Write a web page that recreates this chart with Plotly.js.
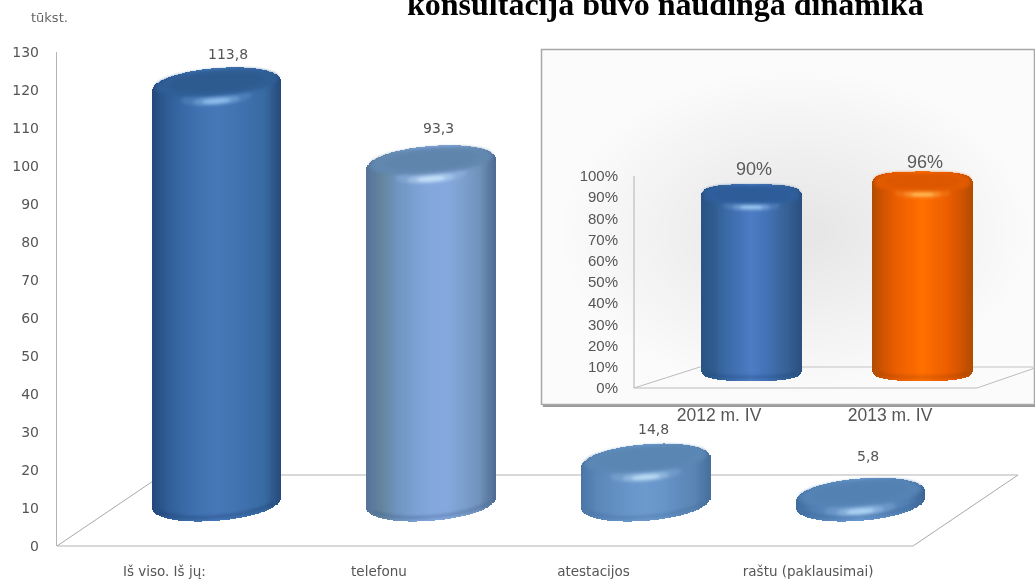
<!DOCTYPE html>
<html><head><meta charset="utf-8">
<script src="https://cdn.plot.ly/plotly-3.0.1.min.js"></script>
<style>html,body{margin:0;padding:0;background:#fff}#g{width:1035px;height:581px}
.layer-above .shapelayer{filter:blur(1.4px)}
.barlayer{filter:blur(.5px)}
.layer-below .shapelayer{filter:blur(.4px)}
.xaxislayer-above,.yaxislayer-above,.annotation:not([data-index="6"]){filter:blur(.35px)}
</style>
</head><body><div id="g"></div>
<script>
// ---- data ----
const categories = ["Iš viso. Iš jų:", "telefonu", "atestacijos", "raštu (paklausimai)"];
const values = [113.8, 93.3, 14.8, 5.8];
const valueLabels = ["113,8", "93,3", "14,8", "5,8"];
const insetCategories = ["2012 m. IV", "2013 m. IV"];
const insetValues = [90, 96];
const insetLabels = ["90%", "96%"];
const insetTicks = [0,10,20,30,40,50,60,70,80,90,100];
const title = "konsultacija buvo naudinga dinamika";
const unit = "tūkst.";
// ---- colour palettes: edge ... centre ... edge ----
const darkBlue  = {body:["#234879","#2f5d97","#3a6aa6","#4173b2","#4677b8","#4375b4","#3d6fab","#386aa2","#27497a"], cap:"#2f5e95", capIn:"#2d5a8f", glow:"#9ccaf5", rim:"#12305e"};
const lightBlue = {body:["#55729a","#64869f","#7096c2","#7ba0d2","#84a8de","#85a9de","#7c9fce","#7093bc","#4f6a92"], cap:"#6288b0", capIn:"#5f85ad", glow:"#cfeafc", rim:"#2f4a78"};
const midBlue   = {body:["#4a75a5","#5a86b8","#628fc2","#6896ca","#6d9acd","#6896ca","#608cbe","#5a86b5","#466f9d"], cap:"#5b87b4", capIn:"#5a86b3", glow:"#c6e6fa", rim:"#38608f"};
const flatBlue  = {body:["#3f6a9c","#507eb2","#5a88bc","#6492c8","#6c9ad0","#6492c8","#5a88bc","#507eb2","#3c6595"], cap:"#5583b4", capIn:"#5381b2", glow:"#b8dcf8", rim:"#2e5688"};
const insetBlue = {body:["#285383","#2f5c8e","#3a6aa6","#4472b6","#4d7cc4","#4674ba","#3c6aa6","#355f92","#285080"], cap:"#2f5e9c", capIn:"#2d5b98", glow:"#a8d6fa", rim:"#153c6e"};
const orange    = {body:["#b04c00","#d45400","#ec5e00","#f66600","#ff7000","#f66600","#ec5e00","#d45400","#b04c00"], cap:"#e25a00", capIn:"#dc5600", glow:"#ffc868", rim:"#8c3a00"};
const mainPalettes = [darkBlue, lightBlue, midBlue, flatBlue];
const insetPalettes = [insetBlue, orange];

const W = 1035, H = 581;
const dom = (a, b, size) => [a / size, b / size];
const domY = (top, bottom) => [1 - bottom / H, 1 - top / H];
const hex = c => [1,3,5].map(i => parseInt(c.substr(i,2),16));
function shade(stops, t){ // t in 0..1
  const p = t * (stops.length - 1), i = Math.min(Math.floor(p), stops.length - 2), f = p - i;
  const a = hex(stops[i]), b = hex(stops[i+1]);
  return "rgb(" + a.map((v,k) => Math.round(v + (b[k]-v)*f)).join(",") + ")";
}
const data = [], shapes = [], annotations = [];
const px = (x0,y0,x1,y1,color,w) => shapes.push({type:"line",xref:"paper",yref:"paper",layer:"below",
  x0:x0/W,x1:x1/W,y0:1-y0/H,y1:1-y1/H,line:{color:color,width:w||1}});

// inset panel background with soft centre
const rectPx = (x0,y0,x1,y1,fill,line) => shapes.push({type:"rect",xref:"paper",yref:"paper",layer:"below",
  x0:x0/W,x1:x1/W,y0:1-y0/H,y1:1-y1/H,fillcolor:fill,line:line||{width:0}});
rectPx(543,402,1035,407,"#9a9a9a");
rectPx(541.5,49.5,1034.5,404.5,"#fbfbfb",{color:"#a8a8a8",width:1.5});
const glowSteps = ["#fafafa","#f9f9f9","#f8f8f8","#f7f7f7","#f6f6f6","#f5f5f5","#f4f4f4","#f3f3f3","#f2f2f2","#f1f1f1","#f0f0f0","#efefef","#eeeeee","#ededed","#ececec","#ebebeb","#eaeaea","#e9e9e9","#e8e8e8","#e7e7e7"];
glowSteps.forEach((c,i) => {
  const rx = 232 - i*10.5, ry = 160 - i*7.4;
  shapes.push({type:"circle",xref:"paper",yref:"paper",layer:"below",
    x0:(795-rx)/W,x1:(795+rx)/W,y0:1-(232+ry)/H,y1:1-(232-ry)/H,fillcolor:c,line:{width:0}});
});
// floors and the inset's axis line
px(57,546,913,546,"#b4b4b4",1.2); px(913,546,1018,475,"#a8a8a8"); px(162,475,1018,475,"#b4b4b4",1.2); px(57,546,162,475,"#a8a8a8");
px(634,388,977,388,"#bcbcbc",1.2); px(977,388,1035,368,"#bcbcbc"); px(700,367,1035,367,"#c4c4c4",1.2); px(634,388,700,367,"#bcbcbc");
px(634,176,634,388,"#bcbcbc",1.2);

function cylinder(o){
  const N = 108, xa = [], wid = [], colsBody = [], colsCap = [];
  const bodyBase = [], bodyY = [], capBase = [], capY = [];
  const sx = o.sx, sy = o.sy, rx = o.rx, ry = o.ry, tilt = o.tilt, n = o.n;
  for (let i = 0; i < N; i++){
    const t = (i + .5)/N*2 - 1, ox = t*rx, ell = ry*Math.pow(1-Math.pow(Math.abs(t),n),1/n)/sy, tl = tilt*ox/sy;
    xa.push(o.c + ox/sx); wid.push((2*rx/N + .6)/sx);
    colsBody.push(shade(o.pal.body,(t+1)/2)); colsCap.push(shade(o.pal.body,(t+1)/2));
    bodyBase.push(o.bc + tl - ell); bodyY.push(o.v - o.bc);
    capBase.push(o.v + tl - ell); capY.push(2*ell);
  }
  const common = {type:"bar",x:xa,width:wid,xaxis:o.xa,yaxis:o.ya,hoverinfo:"skip",showlegend:false,cliponaxis:false};
  data.push(Object.assign({},common,{base:bodyBase,y:bodyY,marker:{color:colsBody,line:{width:0}}}));
  data.push(Object.assign({},common,{base:capBase,y:capY,marker:{color:colsCap,line:{width:0}}}));
  const sp = (c,e) => Math.sign(c)*Math.pow(Math.abs(c),e);
  const ell = (drx,dry,dx,dy,fill,op) => {
    let d = "";
    for (let k = 0; k <= 60; k++){
      const a = k/60*2*Math.PI, ex = drx*sp(Math.cos(a),2/n)+dx, ey = dry*sp(Math.sin(a),2/n)+dy;
      const X = o.c + ex/sx, Y = o.v - ey/sy + tilt*ex/sy;
      d += (k?"L":"M") + X.toFixed(4) + " " + Y.toFixed(3) + " ";
    }
    shapes.push({type:"path",path:d+"Z",xref:o.xa,yref:o.ya,layer:"above",fillcolor:fill,opacity:op===undefined?1:op,line:{width:0}});
  };
  // darker rim along the bottom front edge
  let rim = "";
  const T = 0.88;
  for (let k = 0; k <= 40; k++){
    const t = -T + k/40*2*T, ox = t*rx, e = ry*Math.pow(1-Math.pow(Math.abs(t),n),1/n);
    rim += (k?"L":"M") + (o.c+ox/sx).toFixed(4) + " " + (o.bc+tilt*ox/sy-(e-2.5)/sy).toFixed(3) + " ";
  }
  for (let k = 40; k >= 0; k--){
    const t = -T + k/40*2*T, ox = t*rx, e = ry*Math.pow(1-Math.pow(Math.abs(t),n),1/n);
    rim += "L" + (o.c+ox/sx).toFixed(4) + " " + (o.bc+tilt*ox/sy-(e-5.5)/sy).toFixed(3) + " ";
  }
  shapes.push({type:"path",path:rim+"Z",xref:o.xa,yref:o.ya,layer:"above",fillcolor:o.pal.rim,opacity:.32,line:{width:0}});
  // bevel glow on the front of the cap
  ell(rx*.55,ry*.40,0,ry*.62,o.pal.glow,.14);
  ell(rx*.36,ry*.24,0,ry*.75,o.pal.glow,.3);
  ell(rx*.22,ry*.13,0,ry*.78,o.pal.glow,.75);
  // top face
  ell(rx*.96,ry*.74,0,-ry*.2,o.pal.cap,.7);
  ell(rx*.90,ry*.66,0,-ry*.22,o.pal.cap);
  ell(rx*.72,ry*.48,0,-ry*.24,o.pal.capIn,.8);
}

// ---- main chart geometry ----
const mSx = 214.6, mSy = 3.8, mC0 = 216.5;
values.forEach((v,i) => cylinder({c:i,v:v,bc:4.4,pal:mainPalettes[i],sx:mSx,sy:mSy,rx:64.5,ry:18.5,tilt:.078,n:2.08,xa:"x",ya:"y2"}));
// ---- inset geometry ----
const iSx = 171, iSy = 2.12, iC0 = 751.5;
insetValues.forEach((v,i) => cylinder({c:i,v:v,bc:9.4,pal:insetPalettes[i],sx:iSx,sy:iSy,rx:50.5,ry:13,tilt:0,n:3,xa:"x2",ya:"y3"}));
// trace that carries the real values on the front axis
data.push({type:"scatter",mode:"none",x:[0,1,2,3],y:values,xaxis:"x",yaxis:"y",hoverinfo:"skip",showlegend:false});

const labelFont = {family:"DejaVu Sans",size:14,color:"#555"};
const shiftsX = [11,7,8,8], shiftsY = [33,36,34,41];
values.forEach((v,i) => annotations.push({x:i,y:v,xref:"x",yref:"y2",text:valueLabels[i],showarrow:false,
  xshift:shiftsX[i],yshift:shiftsY[i],font:labelFont,xanchor:"center",yanchor:"middle"}));
const insetShift = [28,22];
insetValues.forEach((v,i) => annotations.push({x:i,y:v,xref:"x2",yref:"y3",text:insetLabels[i],showarrow:false,
  xshift:2,yshift:insetShift[i],font:{family:"Liberation Sans",size:18,color:"#5a5a5a"},xanchor:"center",yanchor:"middle"}));
annotations.push({xref:"paper",yref:"paper",x:665.5/W,y:1-4/H,text:"<b>"+title+"</b>",showarrow:false,xanchor:"center",yanchor:"middle",
  font:{family:"Liberation Serif",size:32,color:"#000"}});
annotations.push({xref:"paper",yref:"paper",x:49/W,y:1-18/H,text:unit,showarrow:false,xanchor:"center",yanchor:"middle",
  font:{family:"DejaVu Sans",size:13,color:"#666"}});

const layout = {
  width:W,height:H,margin:{l:0,r:0,t:0,b:0},paper_bgcolor:"#fff",plot_bgcolor:"rgba(0,0,0,0)",barmode:"overlay",bargap:0,showlegend:false,
  xaxis:{domain:dom(57,1018,W),range:[(57-mC0)/mSx,(1018-mC0)/mSx],anchor:"y",showgrid:false,zeroline:false,showline:false,
    tickmode:"array",tickvals:categories.map((c,i)=>i-.243),ticktext:categories,ticks:"outside",ticklen:13,tickcolor:"rgba(0,0,0,0)",
    tickfont:{family:"DejaVu Sans",size:13.5,color:"#555"}},
  yaxis:{domain:domY(52,546),range:[0,130],anchor:"x",showgrid:false,zeroline:false,showline:true,linecolor:"#b4b4b4",linewidth:1.2,
    tickmode:"linear",tick0:0,dtick:10,ticks:"outside",ticklen:14,tickcolor:"rgba(0,0,0,0)",tickfont:labelFont},
  yaxis2:{domain:domY(52,546),range:[-27/mSy,(519-52)/mSy],anchor:"x",overlaying:"y",visible:false},
  xaxis2:{domain:dom(634,1035,W),range:[(634-iC0)/iSx,(1035-iC0)/iSx],anchor:"y3",showgrid:false,zeroline:false,showline:false,
    tickmode:"array",tickvals:insetCategories.map((c,i)=>i-.19),ticktext:insetCategories,ticks:"outside",ticklen:11,tickcolor:"rgba(0,0,0,0)",
    tickfont:{family:"Liberation Sans",size:17.5,color:"#555"}},
  yaxis3:{domain:domY(120,388),range:[0,(388-120)/iSy],anchor:"x2",showgrid:false,zeroline:false,showline:false,
    tickmode:"array",tickvals:insetTicks,ticktext:insetTicks.map(t=>t+"%"),ticks:"outside",ticklen:12,tickcolor:"rgba(0,0,0,0)",
    tickfont:{family:"Liberation Sans",size:15,color:"#555"}},
  shapes:shapes,annotations:annotations
};
Plotly.newPlot("g",data,layout,{displayModeBar:false,staticPlot:true});
</script></body></html>
